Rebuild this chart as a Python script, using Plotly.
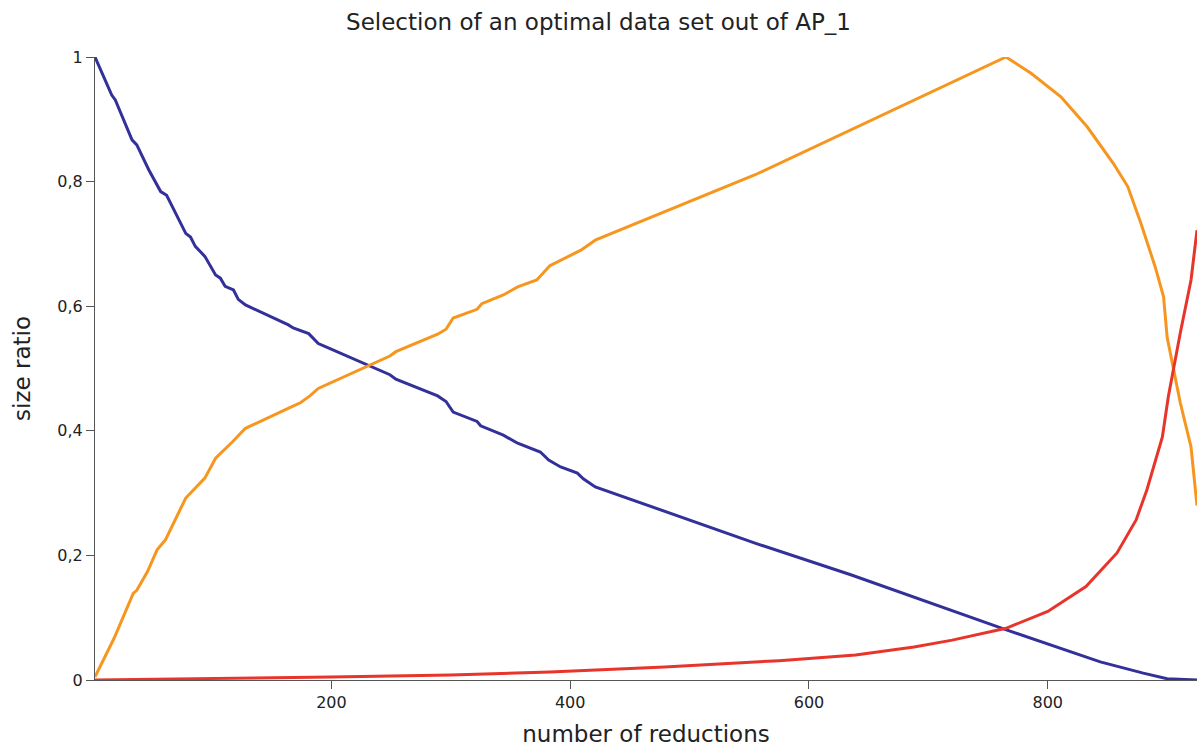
import plotly.graph_objects as go

blue_x = [2, 16, 19, 33, 37, 47, 57, 62, 78, 82, 86, 94, 103, 107, 111, 118, 122, 128, 164, 168, 181, 189, 194,
          249, 254, 289, 296, 302, 322, 325, 344, 356, 375, 382, 392, 406, 411, 421, 556, 635, 766, 844, 880, 900, 925]
blue_y = [1.0, 0.939, 0.931, 0.867, 0.859, 0.819, 0.784, 0.778, 0.717, 0.711, 0.696, 0.680, 0.650, 0.645, 0.632,
          0.626, 0.611, 0.602, 0.570, 0.565, 0.556, 0.540, 0.536, 0.490, 0.483, 0.456, 0.447, 0.430, 0.415, 0.408,
          0.393, 0.380, 0.366, 0.353, 0.342, 0.332, 0.323, 0.310, 0.219, 0.169, 0.080, 0.029, 0.011, 0.002, 0.0]

orange_x = [2, 18, 34, 37, 46, 54, 61, 78, 94, 103, 117, 128, 166, 174, 182, 189, 249, 254, 289, 296, 302, 322,
            326, 344, 356, 372, 383, 409, 421, 555, 765, 786, 811, 833, 855, 867, 878, 884, 890, 897, 900, 911, 920, 925]
orange_y = [0.005, 0.067, 0.139, 0.144, 0.174, 0.209, 0.225, 0.292, 0.324, 0.356, 0.382, 0.404, 0.438, 0.445,
            0.456, 0.468, 0.520, 0.527, 0.555, 0.563, 0.581, 0.595, 0.604, 0.618, 0.631, 0.642, 0.665, 0.690,
            0.706, 0.811, 1.0, 0.974, 0.936, 0.888, 0.829, 0.792, 0.733, 0.696, 0.663, 0.615, 0.55, 0.445, 0.374, 0.28]

red_x = [2, 100, 200, 300, 383, 479, 575, 639, 688, 720, 765, 800, 832, 858, 874, 883, 896, 901, 911, 920, 925]
red_y = [0.0, 0.002, 0.005, 0.008, 0.013, 0.021, 0.031, 0.040, 0.053, 0.064, 0.083, 0.110, 0.150, 0.204,
         0.257, 0.305, 0.39, 0.455, 0.557, 0.642, 0.722]

fig = go.Figure()
fig.add_trace(go.Scatter(x=blue_x, y=blue_y, mode="lines", line=dict(color="#33309a", width=3), showlegend=False))
fig.add_trace(go.Scatter(x=orange_x, y=orange_y, mode="lines", line=dict(color="#f7961e", width=3), showlegend=False))
fig.add_trace(go.Scatter(x=red_x, y=red_y, mode="lines", line=dict(color="#e8352b", width=3), showlegend=False))

font = "DejaVu Sans"
fig.update_layout(
    width=1197, height=747,
    margin=dict(l=95, r=0, t=57, b=67),
    paper_bgcolor="white", plot_bgcolor="white",
    separators=", ",
    font=dict(family=font, color="#222222", size=16),
    title=dict(text="Selection of an optimal data set out of AP_1", x=0.5, xanchor="center",
               y=0.97, yanchor="middle", font=dict(size=23, family=font, color="#222222")),
    xaxis=dict(range=[2, 925], showgrid=False, zeroline=False, showline=True, linecolor="#555555",
               linewidth=1, ticks="outside", ticklen=8, tickcolor="#555555", tickvals=[200, 400, 600, 800],
               tickfont=dict(size=16), title=dict(text="number of reductions", font=dict(size=23), standoff=15)),
    yaxis=dict(range=[0, 1], showgrid=False, zeroline=False, showline=True, linecolor="#555555",
               linewidth=1, ticks="outside", ticklen=8, tickcolor="#555555",
               tickvals=[0, 0.2, 0.4, 0.6, 0.8, 1],
               tickfont=dict(size=16), title=dict(text="size ratio", font=dict(size=23), standoff=20)),
)
fig.write_html("out.html")
